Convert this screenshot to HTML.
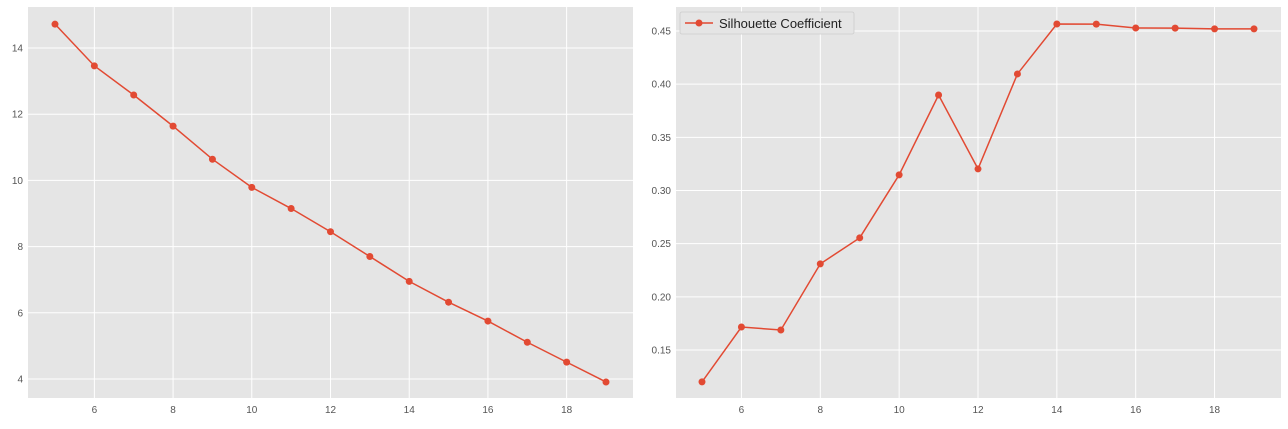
<!DOCTYPE html>
<html><head><meta charset="utf-8"><style>
body{margin:0;background:#fff;font-family:"Liberation Sans",sans-serif}
</style></head><body>
<svg id="c" width="1288" height="424" xmlns="http://www.w3.org/2000/svg"></svg>
<script>
const kValues=[5,6,7,8,9,10,11,12,13,14,15,16,17,18,19];
const inertiaValues=[14.72,13.46,12.58,11.64,10.64,9.79,9.15,8.45,7.7,6.95,6.32,5.75,5.11,4.51,3.91];
const silhouetteValues=[0.12,0.1716,0.1688,0.231,0.2555,0.3147,0.3898,0.3203,0.4096,0.4566,0.4565,0.4528,0.4527,0.452,0.452];
const xTicks=[6,8,10,12,14,16,18];
const leftYTicks=[4,6,8,10,12,14];
const rightYTicks=[0.15,0.20,0.25,0.30,0.35,0.40,0.45];
const svg=document.getElementById('c');
const NS='http://www.w3.org/2000/svg';
function mk(t,a,p){const e=document.createElementNS(NS,t);for(const k in a)e.setAttribute(k,a[k]);(p||svg).appendChild(e);return e;}
function panel(name,box,xs,ys,vals,yTicks,fmt){
 const g=mk('g',{});
 
 
 const bg=mk('rect',{x:box.x0,y:box.y0,width:box.x1-box.x0,height:box.y1-box.y0,fill:'#e5e5e5'},g);
 
 
 xTicks.forEach(t=>{const x=xs(t);
  const l=mk('line',{x1:x,x2:x,y1:box.y0,y2:box.y1,stroke:'#fff','stroke-width':1},g);
  
  
  const tk=mk('text',{x:x,y:box.y1+15,'font-size':10,fill:'#555','text-anchor':'middle'},g);tk.textContent=t;
  
  
 });
 yTicks.forEach(t=>{const y=ys(t);
  const l=mk('line',{x1:box.x0,x2:box.x1,y1:y,y2:y,stroke:'#fff','stroke-width':1},g);
  
  
  const tk=mk('text',{x:box.x0-5,y:y+3.5,'font-size':10,fill:'#555','text-anchor':'end'},g);tk.textContent=fmt(t);
  
  
 });
 const pts=kValues.map((k,i)=>xs(k)+','+ys(vals[i])).join(' ');
 const pl=mk('polyline',{points:pts,fill:'none',stroke:'#e24a33','stroke-width':1.5},g);
 
 
 kValues.forEach((k,i)=>{const c=mk('circle',{cx:xs(k),cy:ys(vals[i]),r:3.5,fill:'#e24a33'},g);
  
  
 });
 return g;
}
const L={x0:28,x1:633,y0:7,y1:398};
panel('inertia-panel',L,k=>55+(k-5)*(606-55)/14,v=>48+(14-v)*(379-48)/10,inertiaValues,leftYTicks,t=>t);
const R={x0:676,x1:1281,y0:7,y1:398};
const rp=panel('silhouette-panel',R,k=>702+(k-5)*(1254-702)/14,v=>31+(0.45-v)*(350-31)/0.30,silhouetteValues,rightYTicks,t=>t.toFixed(2));
const lg=mk('g',{},rp);


mk('rect',{x:680,y:12,width:174,height:22,fill:'#e5e5e5',stroke:'#ccc','stroke-width':0.8,rx:2},lg);
mk('line',{x1:685,x2:713,y1:23,y2:23,stroke:'#e24a33','stroke-width':1.5},lg);
mk('circle',{cx:699,cy:23,r:3.5,fill:'#e24a33'},lg);
const lt=mk('text',{x:719,y:28,'font-size':13,fill:'#222'},lg);lt.textContent='Silhouette Coefficient';


</script>
</body></html>
